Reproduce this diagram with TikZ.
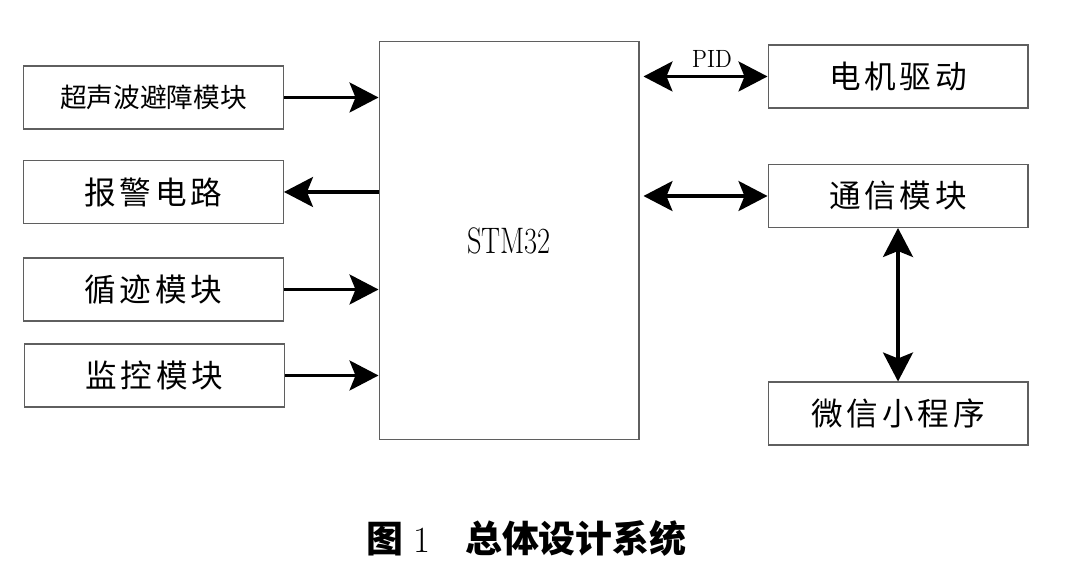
\documentclass[tikz,border=0pt]{standalone}
\usepackage{fontspec}
\usepackage{graphicx}
\newfontfamily\cjk{Noto Sans CJK SC}
\newfontfamily\cjkwide{Noto Sans CJK SC}[LetterSpace=12]
\definecolor{boxgray}{RGB}{95,95,95}
\usetikzlibrary{arrows.meta,positioning,calc}
\newcommand\modfont{\fontsize{18pt}{20pt}\selectfont\cjkwide}
\newcommand\smallmodfont{\fontsize{15.2pt}{17pt}\selectfont\cjk}
\tikzset{
  modbox/.style={draw=boxgray, line width=0.6pt, minimum width=5.2cm, minimum height=1.26cm,
                 inner sep=0pt, font=#1},
  cpubox/.style={draw=boxgray, line width=0.6pt, minimum width=5.2cm, minimum height=7.98cm,
                 inner sep=0pt, font=\fontsize{21pt}{23pt}\selectfont},
  link/.style={line width=1.8pt, -{Stealth[length=0.58cm, width=0.6cm, inset=0.12cm]}},
  link2/.style={line width=1.8pt, {Stealth[length=0.58cm, width=0.6cm, inset=0.12cm]}-{Stealth[length=0.58cm, width=0.6cm, inset=0.12cm]}},
  tag/.style={inner sep=0pt, font=\fontsize{14.2pt}{16pt}\selectfont},
}

\begin{document}
\begin{tikzpicture}[x=0.02cm, y=-0.02cm]
\path[use as bounding box, fill=white] (0,0) rectangle (1065,580);

% Left: input and output modules
\node[modbox=\smallmodfont] (sonar) at (153.5, 97.5) {超声波避障模块};
\node[modbox=\modfont] (alarm) at (153.5, 192) {报警电路};
\node[modbox=\modfont] (track) at (153.5, 289.5) {循迹模块};
\node[modbox=\modfont] (cam) at (154.5, 375.5) {监控模块};

% Centre: controller
\node[cpubox] (stm) at (509, 240.5) {\scalebox{0.77}[1]{STM32}};

% Right: drive and communication
\node[modbox=\modfont] (motor) at (898, 76.5) {电机驱动};
\node[modbox=\modfont] (comm) at (898, 196) {通信模块};
\node[modbox=\modfont] (wx) at (898, 413.5) {微信小程序};

\draw[link] (sonar.east) -- (sonar.east -| stm.west);
\draw[link] (stm.west |- alarm.east) -- (alarm.east);
\draw[link] (track.east) -- (track.east -| stm.west);
\draw[link] (cam.east) -- (cam.east -| stm.west);

\draw[link2] ([xshift=0.08cm]stm.east |- motor.west) -- (motor.west);
\node[tag] (pid) at (712, 58.5) {\scalebox{0.9}[1]{PID}};
\draw[link2] ([xshift=0.08cm]stm.east |- comm.west) -- (comm.west);
\draw[link2] (comm.south) -- (wx.north);

% Caption
\node[anchor=west, inner sep=0pt, font=\fontsize{21pt}{23pt}\selectfont] (cap) at (366, 538)
  {{\cjk\bfseries 图}\hspace{0.2cm}1\hspace{0.7cm}{\cjk\bfseries 总体设计系统}};
\end{tikzpicture}
\end{document}
